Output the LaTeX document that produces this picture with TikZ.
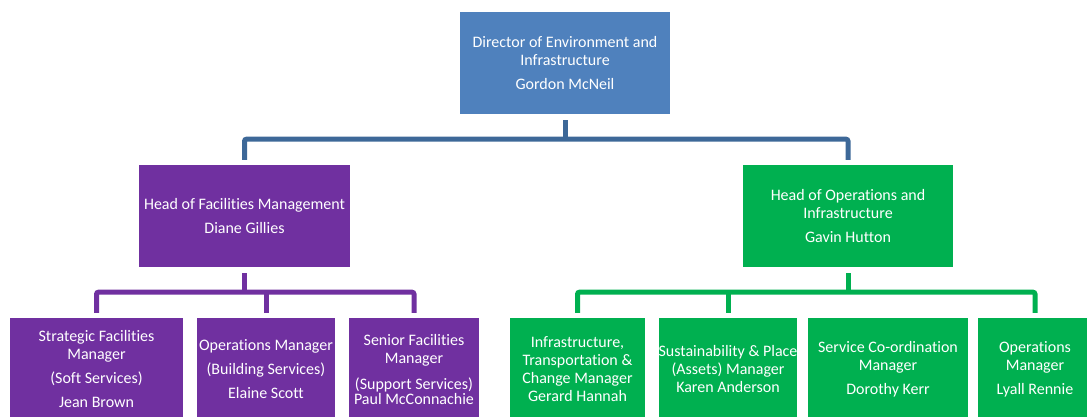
\documentclass[tikz,border=0pt]{standalone}
\usepackage{fontspec}
\setmainfont{Carlito}[Ligatures=NoCommon]
\definecolor{dirblue}{HTML}{4F81BD}
\definecolor{linkblue}{HTML}{3D6898}
\definecolor{fmpurple}{HTML}{7030A0}
\definecolor{opsgreen}{HTML}{00B050}
\tikzset{
	box/.style={rectangle, inner sep=0pt, minimum height=102pt, align=center,
		text=white, font=\fontsize{16}{18}\selectfont},
	link/.style={line width=5pt, rounded corners=2pt}
}
\begin{document}
\begin{tikzpicture}[x=1pt, y=-1pt]
		\useasboundingbox (0,0) rectangle (1087,416);
		\clip (0,0) rectangle (1087,416);
		% Leitung
		\node[box, fill=dirblue, minimum width=210pt] (dir) at (565,63)
			{Director of Environment and\\Infrastructure\\[6pt]Gordon McNeil};
		\node[box, fill=fmpurple, minimum width=211pt] (fm) at (244.5,216)
			{Head of Facilities Management\\[6pt]Diane Gillies};
		\node[box, fill=opsgreen, minimum width=210pt] (ops) at (848,216)
			{Head of Operations and\\Infrastructure\\[6pt]Gavin Hutton};
		% Facilities
		\node[box, fill=fmpurple, minimum width=173pt] (strat) at (96.5,369)
			{Strategic Facilities\\Manager\\[6pt](Soft Services)\\[6pt]Jean Brown};
		\node[box, fill=fmpurple, minimum width=138pt] (bldg) at (266,369)
			{Operations Manager\\[6pt](Building Services)\\[6pt]Elaine Scott};
		\node[box, fill=fmpurple, minimum width=130pt] (supp) at (414,369)
			{Senior Facilities\\Manager\\[8pt](Support Services)\\[-3pt]Paul McConnachie};
		% Operations
		\node[box, fill=opsgreen, minimum width=135pt] (infra) at (577.5,369)
			{Infrastructure,\\Transportation \&\\Change Manager\\Gerard Hannah};
		\node[box, fill=opsgreen, minimum width=138pt] (sust) at (728,369)
			{Sustainability \& Place\\(Assets) Manager\\Karen Anderson};
		\node[box, fill=opsgreen, minimum width=160pt] (serv) at (888,369)
			{Service Co-ordination\\Manager\\[6pt]Dorothy Kerr};
		\node[box, fill=opsgreen, minimum width=114pt] (opsm) at (1035,369)
			{Operations\\Manager\\[6pt]Lyall Rennie};
		% Linien
		\coordinate (dirbus) at ([yshift=-25pt]dir.south);
		\draw[link, linkblue] ([yshift=-6pt]dir.south) -- (dirbus);
		\draw[link, linkblue] ([yshift=5pt]fm.north) |- (dirbus) -| ([yshift=5pt]ops.north);
		\coordinate (fmbus) at ([yshift=-25pt]fm.south);
		\draw[link, fmpurple] ([yshift=-6pt]fm.south) -- (fmbus);
		\draw[link, fmpurple] ([yshift=5pt]strat.north) |- (fmbus) -| ([yshift=5pt]supp.north);
		\draw[link, fmpurple] ([yshift=5pt]bldg.north) -- (bldg.north |- fmbus);
		\coordinate (opsbus) at ([yshift=-25pt]ops.south);
		\draw[link, opsgreen] ([yshift=-6pt]ops.south) -- (opsbus);
		\draw[link, opsgreen] ([yshift=5pt]infra.north) |- (opsbus) -| ([yshift=5pt]opsm.north);
		\draw[link, opsgreen] ([yshift=5pt]sust.north) -- (sust.north |- opsbus);
	\end{tikzpicture}
\end{document}
